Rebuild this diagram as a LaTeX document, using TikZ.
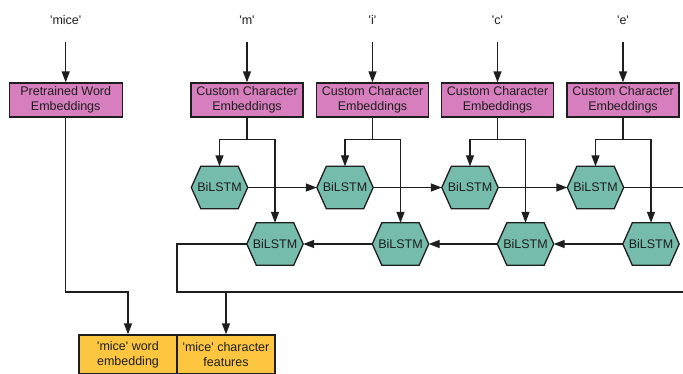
\documentclass[tikz,border=0pt]{standalone}
\usepackage{fontspec}
\setmainfont{Liberation Sans}
\usetikzlibrary{arrows.meta,backgrounds}
\definecolor{embpink}{RGB}{214,126,190}
\definecolor{lstmteal}{RGB}{118,188,172}
\definecolor{outorange}{RGB}{253,198,64}
\definecolor{inkc}{RGB}{30,30,30}
\newcommand{\sq}{\textquotesingle}
\tikzset{
  every node/.style={font=\fontsize{12.5}{15}\selectfont, text=inkc},
  conn/.style={draw=inkc, line width=1.3pt},
  arr/.style={conn, -{Triangle[length=11pt,width=8pt]}},
  toplabel/.style={minimum height=44pt, inner sep=0pt},
  embbox/.style={draw=inkc, line width=1.3pt, fill=embpink, minimum width=112pt, minimum height=34pt, inner sep=0pt, align=center},
  hexnode/.style={shape=rectangle, minimum width=56pt, minimum height=42pt, inner sep=0pt},
  hexpath/.style={draw=inkc, line width=1.3pt, fill=lstmteal, line join=miter},
  outbox/.style={draw=inkc, line width=1.3pt, fill=outorange, minimum width=98pt, minimum height=39pt, inner sep=0pt, align=center},
}
\begin{document}
\begin{tikzpicture}[x=1pt,y=-1pt]
\useasboundingbox (0,0) rectangle (683,373);
\clip (0,0) rectangle (683,373);
% top labels
\node[toplabel] (lw) at (65.7,20) {\sq mice\sq};
\node[toplabel] (l1) at (247,20) {\sq m\sq};
\node[toplabel] (l2) at (372.5,20) {\sq i\sq};
\node[toplabel] (l3) at (497.5,20) {\sq c\sq};
\node[toplabel] (l4) at (623,20) {\sq e\sq};
% embedding boxes
\node[embbox, minimum width=113pt] (pw) at (65.7,100) {Pretrained Word\\Embeddings};
\node[embbox] (c1) at (247,100) {Custom Character\\Embeddings};
\node[embbox] (c2) at (372.5,100) {Custom Character\\Embeddings};
\node[embbox] (c3) at (497.5,100) {Custom Character\\Embeddings};
\node[embbox] (c4) at (623,100) {Custom Character\\Embeddings};
% forward BiLSTMs
\node[hexnode] (f1) at (219.5,187.5) {BiLSTM};
\node[hexnode] (f2) at (345,187.5) {BiLSTM};
\node[hexnode] (f3) at (470,187.5) {BiLSTM};
\node[hexnode] (f4) at (595.5,187.5) {BiLSTM};
% backward BiLSTMs
\node[hexnode] (b1) at (275,244) {BiLSTM};
\node[hexnode] (b2) at (400.5,244) {BiLSTM};
\node[hexnode] (b3) at (525.5,244) {BiLSTM};
\node[hexnode] (b4) at (651,244) {BiLSTM};
% hexagon outlines behind the texts
\begin{pgfonlayer}{background}
\foreach \h in {f1,f2,f3,f4,b1,b2,b3,b4}{
  \draw[hexpath] (\h.west) -- ([xshift=9.5pt]\h.north west) -- ([xshift=-9.5pt]\h.north east)
    -- (\h.east) -- ([xshift=-9.5pt]\h.south east) -- ([xshift=9.5pt]\h.south west) -- cycle;
}
\end{pgfonlayer}
% output boxes
\node[outbox] (we) at (128,354.5) {\sq mice\sq{} word\\embedding};
\node[outbox] (cf) at (226,354.5) {\sq mice\sq{} character\\features};
% coordinates
\coordinate (fout) at (700,187.5);
\coordinate (lowleft) at (177,244);
\coordinate (lowcorner) at (177,292);
\coordinate (lowright) at (700,292);
\coordinate (charjoin) at (226,292);
% label arrows
\foreach \l/\b in {lw/pw,l1/c1,l2/c2,l3/c3,l4/c4}{
  \draw[arr] (\l.south) -- (\b.north);
}
% splits
\foreach \c/\f/\b in {c1/f1/b1,c2/f2/b2,c3/f3/b3,c4/f4/b4}{
  \draw[arr] (\c.south) -- ++(0,22) -| (\f.north);
  \draw[arr] (\c.south) -- ++(0,22) -| (\b.north);
}
% forward chain
\draw[arr] (f1.east) -- (f2.west);
\draw[arr] (f2.east) -- (f3.west);
\draw[arr] (f3.east) -- (f4.west);
\draw[conn] (f4.east) -- (fout);
% backward chain
\draw[arr] (b4.west) -- (b3.east);
\draw[arr] (b3.west) -- (b2.east);
\draw[arr] (b2.west) -- (b1.east);
\draw[conn] (b1.west) -- (lowleft) -- (lowcorner) -- (lowright);
\draw[arr] (charjoin) -- (cf.north);
% word embedding path
\draw[arr] (pw.south) |- (100,292) -| (we.north);
\end{tikzpicture}
\end{document}
